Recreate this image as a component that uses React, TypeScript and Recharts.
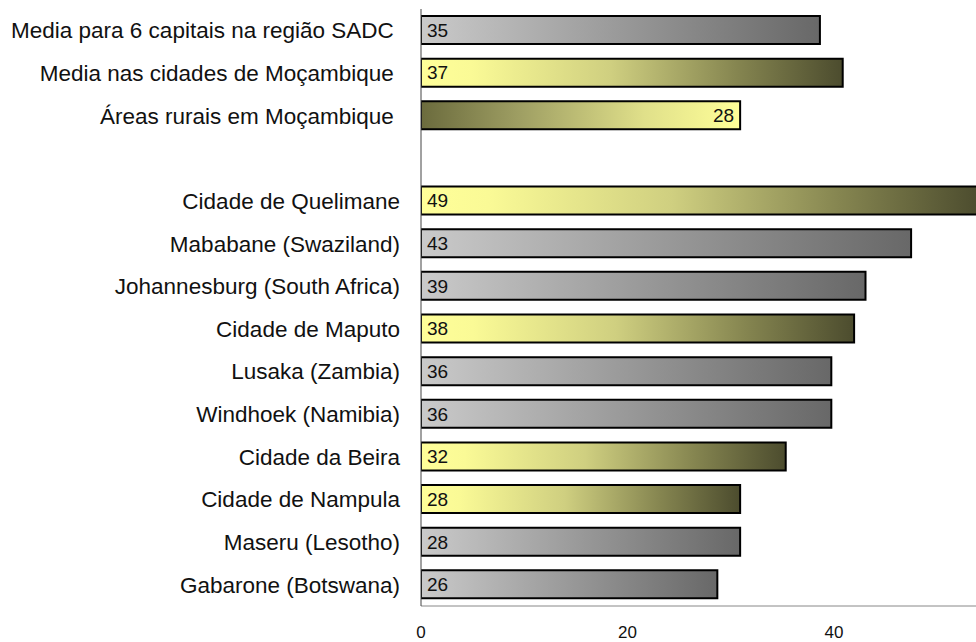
import React from "react";
import { BarChart, Bar, XAxis, YAxis, Cell, LabelList } from "recharts";

const categories = [
  "Media para 6 capitais na região SADC\u00A0",
  "Media nas cidades de Moçambique\u00A0",
  "Áreas rurais em Moçambique\u00A0",
  "",
  "Cidade de Quelimane",
  "Mababane (Swaziland)",
  "Johannesburg (South Africa)",
  "Cidade de Maputo",
  "Lusaka (Zambia)",
  "Windhoek (Namibia)",
  "Cidade da Beira",
  "Cidade de Nampula",
  "Maseru (Lesotho)",
  "Gabarone (Botswana)",
];
const values: (number | null)[] = [35, 37, 28, null, 49, 43, 39, 38, 36, 36, 32, 28, 28, 26];
const kinds = ["gray", "yellow", "yellowRev", "none", "yellow", "gray", "gray", "yellow", "gray", "gray", "yellow", "yellow", "gray", "gray"];
const xTicks = [0, 20, 40];

const data = categories.map((name, i) => ({ name, value: values[i], kind: kinds[i] }));

const FONT = "'Liberation Sans', Arial, sans-serif";

const ValueLabel = (props: any) => {
  const { x, y, width, height, value, index } = props;
  if (value == null) return null;
  const rev = kinds[index] === "yellowRev";
  return (
    <text
      x={rev ? x + width - 6 : x + 6}
      y={y + height / 2}
      dy="0.36em"
      textAnchor={rev ? "end" : "start"}
      fontSize={19}
      fontFamily={FONT}
      fill="#111"
    >
      {value}
    </text>
  );
};

export default function App() {
  return (
    <div style={{ position: "absolute", left: 0, top: 0, width: 976, height: 642, overflow: "hidden", background: "#fff" }}>
      <BarChart
        width={1000}
        height={642}
        data={data}
        layout="vertical"
        margin={{ top: 9, right: 0, bottom: 6, left: 0 }}
        barCategoryGap={0}
        style={{ fontFamily: FONT }}
      >
        <defs>
          <linearGradient id="gGray" x1="0" y1="0" x2="1" y2="0">
            <stop offset="0" stopColor="#cacaca" />
            <stop offset="1" stopColor="#686868" />
          </linearGradient>
          <linearGradient id="gYellow" x1="0" y1="0" x2="1" y2="0">
            <stop offset="0" stopColor="#ffff99" />
            <stop offset="0.12" stopColor="#fafa96" />
            <stop offset="0.45" stopColor="#cfcf80" />
            <stop offset="0.75" stopColor="#858550" />
            <stop offset="1" stopColor="#4c4c2e" />
          </linearGradient>
          <linearGradient id="gYellowRev" x1="0" y1="0" x2="1" y2="0">
            <stop offset="0" stopColor="#6b6b3d" />
            <stop offset="0.3" stopColor="#9d9d62" />
            <stop offset="0.7" stopColor="#e0e08a" />
            <stop offset="1" stopColor="#ffff99" />
          </linearGradient>
        </defs>
        <XAxis
          xAxisId="ticks"
          type="number"
          domain={[0, 56.08]}
          ticks={xTicks}
          allowDataOverflow
          height={30}
          tickLine={false}
          axisLine={{ stroke: "#888" }}
          tickMargin={14}
          tick={{ fontSize: 17, fill: "#111", fontFamily: FONT }}
        />
        <XAxis
          xAxisId="bars"
          type="number"
          domain={[0, 50.8]}
          hide
          height={0}
          allowDataOverflow
        />
        <YAxis
          type="category"
          dataKey="name"
          width={421}
          tickLine={false}
          axisLine={{ stroke: "#444" }}
          tickMargin={15}
          interval={0}
          tick={{ fontSize: 22.5, fill: "#111", fontFamily: FONT }}
        />
        <Bar
          xAxisId="bars"
          dataKey="value"
          barSize={28}
          stroke="#000"
          strokeWidth={2}
          isAnimationActive={false}
        >
          {data.map((d, i) => (
            <Cell
              key={i}
              fill={d.kind === "gray" ? "url(#gGray)" : d.kind === "yellow" ? "url(#gYellow)" : "url(#gYellowRev)"}
            />
          ))}
          <LabelList dataKey="value" content={ValueLabel} />
        </Bar>
      </BarChart>
    </div>
  );
}
